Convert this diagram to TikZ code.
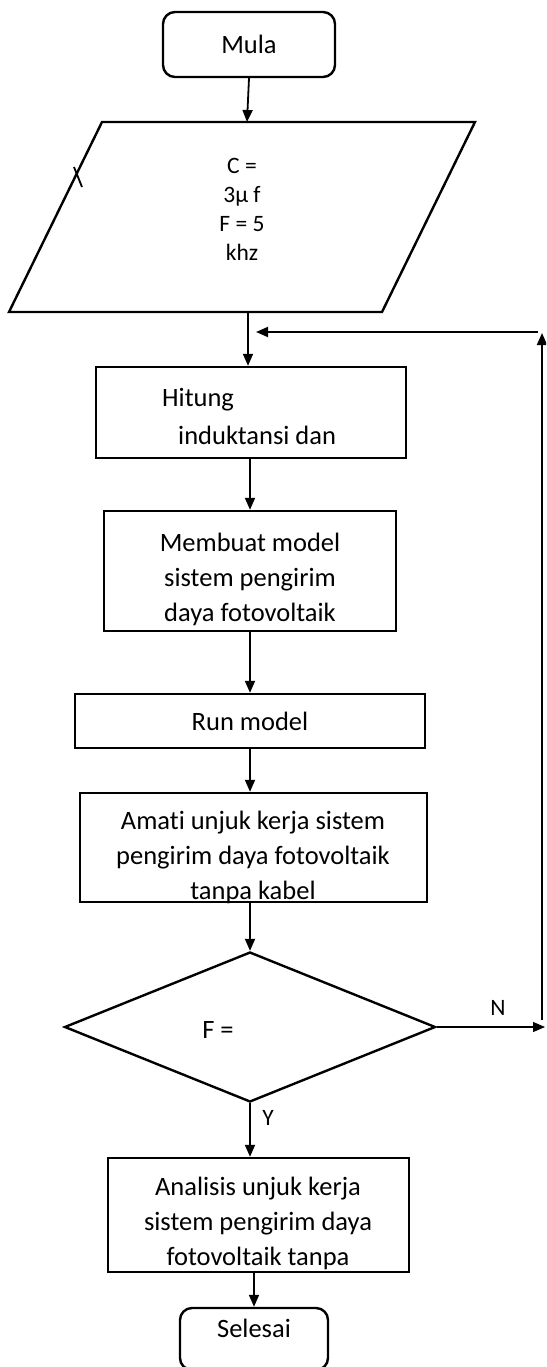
\documentclass[tikz,border=0pt]{standalone}
\usepackage{fontspec}
\setmainfont{Carlito}[Ligatures=NoCommon]
\usetikzlibrary{shapes.geometric,arrows.meta}
\begin{document}
\begin{tikzpicture}[x=1pt,y=-1pt,
  box/.style={draw,line width=2.4pt,inner sep=0pt},
  term/.style={box,rounded corners=12pt},
  txt/.style={inner sep=0pt,align=center,font=\fontsize{26.5}{35}\selectfont},
  arr/.style={line width=1.8pt,-{Triangle[length=12pt,width=10pt]}},
  thinarr/.style={line width=1.1pt,-{Triangle[length=12pt,width=10pt]}},
  lab/.style={inner sep=0pt,font=\fontsize{23.5}{28}\selectfont}]
\useasboundingbox (0,0) rectangle (546,1367);
\fill[white] (0,0) rectangle (546,1367);
\clip (0,0) rectangle (546,1367);

% start
\node[term,txt,minimum width=172pt,minimum height=65pt] (mula) at (249,44.5) {Mula};

% input parallelogram
\coordinate (ptl) at (102,122);
\coordinate (ptr) at (475,122);
\coordinate (pbr) at (382,312);
\coordinate (pbl) at (9,312);
\draw[line width=2.4pt,line join=miter] (ptl) -- (ptr) -- (pbr) -- (pbl) -- cycle;
\coordinate (pin) at (247,122);
\coordinate (pout) at (248,312);
\coordinate (tka) at (74,167);
\coordinate (tkb) at (82,187);
\draw[line width=1.8pt] (tka) -- (tkb);
\node[txt,font=\fontsize{23.5}{29}\selectfont] (data) at (242,209.5) {C =\\3µ f\\F = 5\\khz};
\draw[arr] (mula.south) -- (pin);

% Hitung
\node[box,minimum width=310pt,minimum height=91pt] (hitung) at (251,412.5) {};
\node[txt,anchor=west] (hitung1) at (162,400) {Hitung};
\node[txt,anchor=west] (hitung2) at (178,435) {induktansi dan};
\draw[arr] (pout) -- (pout |- hitung.north);

% loop back
\coordinate (lb) at (542,1020);
\coordinate (lt) at (542,333);
\coordinate (lr) at (538,332);
\coordinate (ll) at (256,332);
\draw[arr] (lb) -- (lt);
\draw[arr] (lr) -- (ll);

% Membuat model
\node[box,minimum width=292pt,minimum height=120pt] (membuat) at (250,571) {};
\node[txt] (membuatt) at (250,579) {Membuat model\\sistem pengirim\\daya fotovoltaik};
\draw[arr] (hitung.south -| membuat.north) -- (membuat.north);

% Run model
\node[box,txt,minimum width=350pt,minimum height=54pt] (run) at (250,721) {Run model};
\draw[arr] (membuat.south) -- (run.north);

% Amati
\node[box,minimum width=347pt,minimum height=109pt] (amati) at (253.5,847.5) {};
\node[txt] (amatit) at (253,857.5) {Amati unjuk kerja sistem\\pengirim daya fotovoltaik\\tanpa kabel};
\draw[arr] (run.south) -- (run.south |- amati.north);

% Decision
\node[draw,diamond,line width=2.4pt,inner sep=0pt,minimum width=371pt,minimum height=150pt] (dec) at (250,1027) {};
\node[txt] (dect) at (218,1030) {F =};
\draw[arr] (amati.south -| dec.north) -- (dec.north);
\coordinate (nend) at (545,1027);
\draw[thinarr] (dec.east) -- (nend);
\node[lab] (nlab) at (498,1008) {N};
\node[lab] (ylab) at (268,1118) {Y};

% Analisis
\node[box,minimum width=301pt,minimum height=114pt] (anal) at (258.5,1215) {};
\node[txt] (analt) at (258,1223) {Analisis unjuk kerja\\sistem pengirim daya\\fotovoltaik tanpa};
\draw[arr] (dec.south) -- (dec.south |- anal.north);

% Selesai
\node[term,minimum width=148pt,minimum height=62pt] (sel) at (254,1339) {};
\node[txt] (selt) at (254,1328) {Selesai};
\draw[arr] (anal.south -| sel.north) -- (sel.north);
\end{tikzpicture}
\end{document}
